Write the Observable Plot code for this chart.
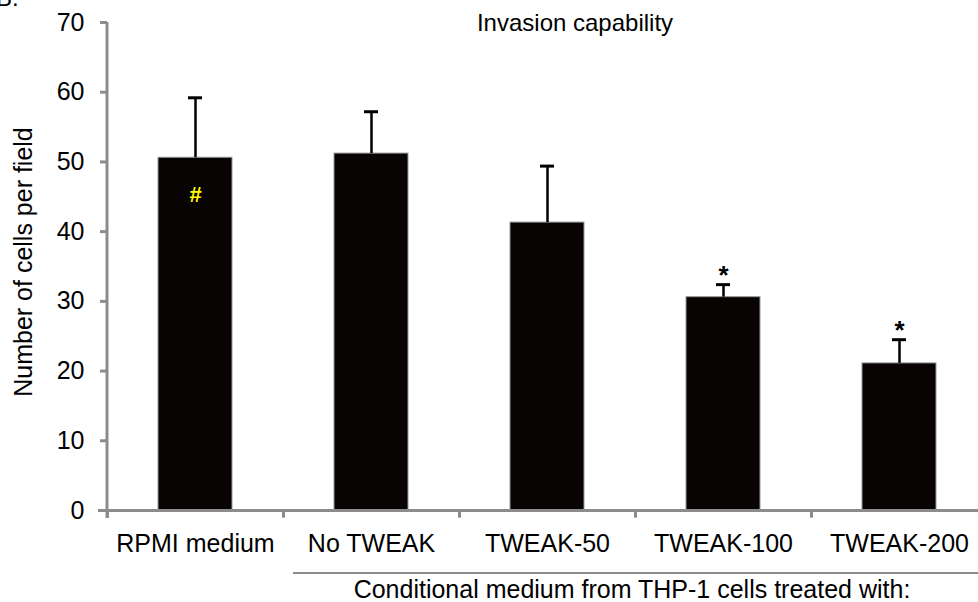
<!DOCTYPE html>
<html>
<head>
<meta charset="utf-8">
<script src="https://cdn.jsdelivr.net/npm/d3@7"></script>
<script src="https://cdn.jsdelivr.net/npm/@observablehq/plot@0.6"></script>
<style>
  html, body { margin: 0; padding: 0; background: #fff; }
  #wrap { position: relative; width: 978px; height: 602px; overflow: hidden; font-family: "Liberation Sans", Arial, sans-serif; color: #000; }
  #wrap svg { position: absolute; left: 0; top: 0; overflow: visible; }
  .abs { position: absolute; white-space: nowrap; line-height: 1.15; }
</style>
</head>
<body>
<div id="wrap"></div>
<script>
const categories = ["RPMI medium", "No TWEAK", "TWEAK-50", "TWEAK-100", "TWEAK-200"];
const means = [50.6, 51.2, 41.3, 30.6, 21.1];
const errors = [8.6, 6.0, 8.1, 1.8, 3.4];
const marks = ["#", "", "", "*", "*"];
const yTicks = [0, 10, 20, 30, 40, 50, 60, 70];
const title = "Invasion capability";
const yLabel = "Number of cells per field";
const groupLabel = "Conditional medium from THP-1 cells treated with:";

const data = categories.map((c, i) => ({cat: c, mean: means[i], upper: means[i] + errors[i], mark: marks[i]}));
const axisGray = "#8c8c8c";

const chart = Plot.plot({
  width: 978,
  height: 560,
  marginTop: 22,
  marginBottom: 50,
  marginLeft: 107,
  marginRight: 0,
  style: {fontFamily: "'Liberation Sans', Arial, sans-serif", background: "transparent"},
  x: {domain: categories, range: [107, 987], paddingInner: 0.58, paddingOuter: 0.29, label: null},
  y: {domain: [0, 70], label: null},
  marks: [
    Plot.barY(data, {x: "cat", y: "mean", fill: "#070403", stroke: "#9a9a9a", strokeWidth: 1}),
    Plot.ruleX(data, {x: "cat", y1: "mean", y2: "upper", stroke: "#000", strokeWidth: 2.5}),
    Plot.tickY(data, {x: "cat", y: "upper", stroke: "#000", strokeWidth: 3, inset: 30}),
    Plot.text(data.filter(d => d.mark === "*"), {x: "cat", y: "upper", text: "mark", fontSize: 26, fontWeight: "bold", lineAnchor: "bottom", dy: -1, fill: "#000"}),
    Plot.text(data.filter(d => d.mark === "#"), {x: "cat", y: "mean", text: "mark", fontSize: 22, fontWeight: "bold", fill: "#ffff00", dy: 37}),
    Plot.ruleY([0], {stroke: axisGray, strokeWidth: 3, insetLeft: -9}),
    Plot.ruleX(categories, {x: d => d, y1: 0, y2: -1.1, dx: -88, stroke: axisGray, strokeWidth: 3}),
    Plot.axisY({ticks: yTicks, tickSize: 7, tickPadding: 16, stroke: axisGray, strokeWidth: 3, fill: "#000", fontSize: 25, label: null, tickFormat: d => String(d)}),
    Plot.axisX({tickSize: 0, tickPadding: 24, fontSize: 25, fill: "#000", label: null})
  ]
});

const wrap = document.getElementById("wrap");
wrap.appendChild(chart);

// y axis line
const svgNS = "http://www.w3.org/2000/svg";
const yline = document.createElementNS(svgNS, "line");
yline.setAttribute("x1", 107); yline.setAttribute("x2", 107);
yline.setAttribute("y1", 22); yline.setAttribute("y2", 518);
yline.setAttribute("stroke", axisGray); yline.setAttribute("stroke-width", 3);
chart.appendChild(yline);

function addDiv(text, css) {
  const d = document.createElement("div");
  d.className = "abs";
  d.textContent = text;
  Object.assign(d.style, css);
  wrap.appendChild(d);
  return d;
}
addDiv("B.", {left: "-4px", top: "-16px", fontSize: "24px"});
addDiv(title, {left: "575px", top: "9px", fontSize: "24px", transform: "translateX(-50%)"});
addDiv(yLabel, {left: "23px", top: "262px", fontSize: "25px", transform: "translate(-50%,-50%) rotate(-90deg)"});
const br = document.createElement("div");
br.className = "abs";
Object.assign(br.style, {left: "293px", top: "572px", width: "690px", height: "0", borderTop: "2px solid " + axisGray});
wrap.appendChild(br);
addDiv(groupLabel, {left: "632px", top: "575px", fontSize: "25px", transform: "translateX(-50%)"});
</script>
</body>
</html>
